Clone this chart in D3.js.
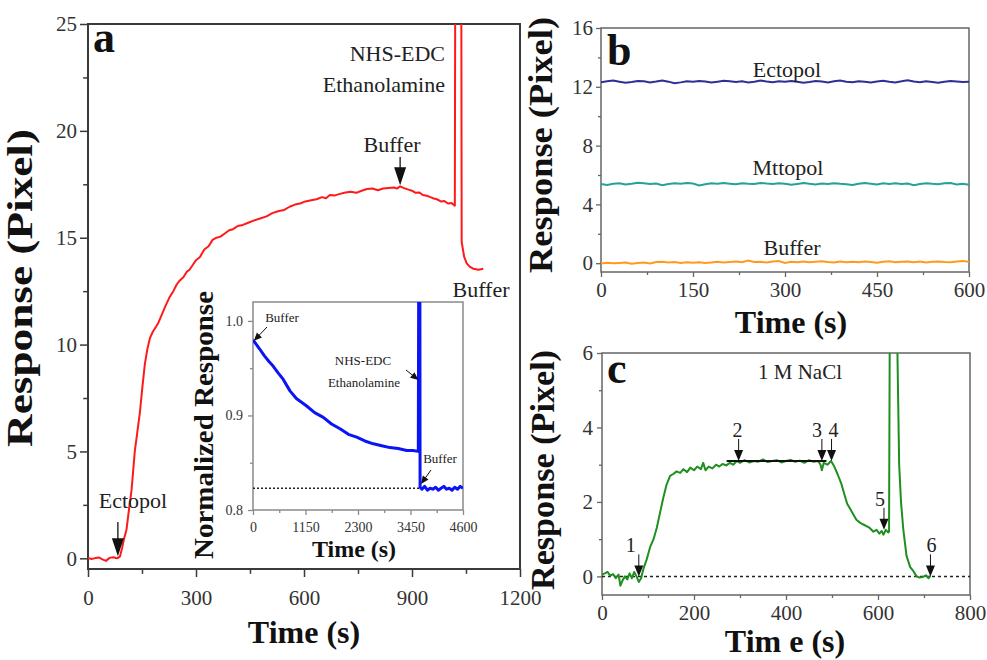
<!DOCTYPE html>
<html>
<head>
<meta charset="utf-8">
<script src="https://cdn.jsdelivr.net/npm/d3@7"></script>
<style>
  body { margin: 0; background: #fff; }
  svg { display: block; }
</style>
</head>
<body>
<svg width="987" height="660"></svg>
<script>
// ---- panel a: immobilisation run (red) ----
const timeA = [0,10,20,30,40,50,60,70,80,86,89,95,100,107,114,121,125,130,137,144,151,158,165,172,180,195,
  205,215,226,237,246,255,265,274,282,290,300,311,323,335,346,357,368,380,392,403,416,430,445,460,478,496,512,530,545,560,
  575,589,604,620,635,650,661,672,686,700,715,730,745,760,775,790,805,820,835,850,858,867,878,890,900,910,920,930,944,958,
  969,980,990,1000,1010,1019,1020,1037,1038,1045,1052,1060,1070,1085,1098];
const respA = [0.02,-0.03,0.01,0.04,-0.05,-0.12,0.02,0.05,0.0,0.05,0.1,0.5,0.9,1.35,2.3,3.2,4.0,5.0,5.9,6.8,8.0,9.1,9.8,10.3,10.6,11.0,
  11.4,11.8,12.2,12.5,12.8,13.0,13.15,13.4,13.5,13.7,13.95,14.1,14.45,14.6,14.9,15.0,15.05,15.2,15.35,15.4,15.55,15.6,15.7,15.8,15.9,16.0,16.15,16.25,16.3,16.45,
  16.55,16.6,16.7,16.75,16.8,16.9,16.85,17.0,16.98,17.05,17.12,17.15,17.1,17.2,17.28,17.3,17.22,17.3,17.33,17.35,17.3,17.4,17.32,17.25,17.2,17.1,17.12,17.0,16.95,16.85,
  16.8,16.7,16.72,16.6,16.62,16.5,26,26,14.8,14.1,13.8,13.65,13.55,13.5,13.55];

// ---- inset: normalized response (blue) ----
const timeIn = [0,44,150,250,350,444,550,650,810,950,1175,1350,1540,1720,1906,2090,2271,2450,2636,2820,
  3000,3180,3367,3500,3621,3630,3655,3660,3700,3760,3820,3880,3940,4000,4060,4120,4180,4240,4300,4360,4420,4480,4540,4600];
const respIn = [0.98,0.977,0.970,0.963,0.957,0.952,0.945,0.939,0.926,0.918,0.910,0.903,0.898,0.891,0.886,0.880,0.877,0.873,0.870,0.868,
  0.866,0.865,0.863,0.863,0.862,1.05,1.05,0.824,0.822,0.825,0.821,0.823,0.822,0.824,0.821,0.823,0.825,0.822,0.823,0.821,0.824,0.822,0.825,0.823];
const baseIn = 0.823;

// ---- panel b: control injections ----
const timeB = [0,10,20,30,40,50,60,70,80,90,100,110,120,130,140,150,160,170,180,190,200,210,220,230,240,250,260,270,280,290,
  300,310,320,330,340,350,360,370,380,390,400,410,420,430,440,450,460,470,480,490,500,510,520,530,540,550,560,570,580,590,600];
const ectopol = [12.30,12.38,12.42,12.35,12.28,12.33,12.40,12.37,12.30,12.36,12.43,12.35,12.24,12.30,12.38,12.34,12.40,12.36,12.29,12.35,
  12.41,12.38,12.33,12.37,12.30,12.35,12.42,12.36,12.31,12.38,12.34,12.40,12.35,12.28,12.33,12.39,12.36,12.30,12.37,12.42,
  12.35,12.31,12.38,12.34,12.29,12.36,12.41,12.35,12.30,12.37,12.45,12.36,12.31,12.38,12.33,12.27,12.35,12.40,12.36,12.32,12.34];
const mttopol = [5.38,5.32,5.40,5.44,5.36,5.41,5.47,5.43,5.38,5.42,5.30,5.38,5.44,5.40,5.46,5.42,5.29,5.37,5.43,5.40,
  5.45,5.41,5.37,5.44,5.40,5.38,5.46,5.42,5.39,5.44,5.41,5.33,5.39,5.45,5.40,5.36,5.42,5.38,5.44,5.40,
  5.37,5.32,5.40,5.45,5.41,5.36,5.43,5.39,5.44,5.38,5.42,5.31,5.39,5.44,5.40,5.37,5.43,5.46,5.36,5.40,5.33];
const bufferB = [-0.02,0.03,-0.01,0.02,0.04,-0.03,0.01,0.05,-0.02,0.08,0.10,0.04,0.08,0.02,0.06,0.03,0.07,0.01,0.05,0.09,
  0.04,0.08,0.12,0.06,0.18,0.08,0.10,0.05,0.11,0.14,0.02,0.09,0.07,0.12,0.06,0.10,0.13,0.08,0.04,0.11,
  0.07,0.10,0.06,0.12,0.08,0.03,0.09,0.13,0.06,0.10,0.12,0.07,0.11,0.05,0.09,0.12,0.08,0.06,0.11,0.14,0.10];
const seriesB = [
  {name: "Ectopol", values: ectopol, color: "#2e2e96"},
  {name: "Mttopol", values: mttopol, color: "#21a396"},
  {name: "Buffer", values: bufferB, color: "#ff9a1f"}
];

// ---- panel c: regeneration with 1 M NaCl (green) ----
const timeC = [0,6,12,18,24,30,36,40,45,50,55,60,65,70,75,80,85,90,97,105,112,119,126,133,140,148,155,162,170,177,
  185,192,200,207,215,220,225,232,240,248,255,262,270,278,285,293,300,310,320,330,340,350,360,370,380,390,400,410,420,430,
  440,450,460,470,475,478,482,490,498,505,512,520,527,533,540,547,553,560,567,575,582,590,597,603,608,612,617,622,624,626,
  639,641,646,650,655,662,670,677,684,690,697,704,710,714];
const respC = [0.05,0.08,0.12,0.02,0.06,-0.05,0.05,-0.25,-0.1,0.0,-0.08,0.08,-0.05,0.12,0.0,-0.15,-0.05,0.2,0.45,0.8,
  1.0,1.3,1.7,2.1,2.45,2.7,2.75,2.82,2.78,2.88,2.8,2.92,2.85,2.95,2.88,3.05,2.85,2.95,2.9,3.0,
  2.95,3.02,2.98,3.05,3.0,3.1,3.05,3.12,3.06,3.1,3.08,3.14,3.07,3.1,3.12,3.06,3.1,3.13,3.08,3.11,
  3.05,3.12,3.08,3.1,3.0,2.85,3.05,3.0,3.1,2.95,2.75,2.5,2.2,1.95,1.8,1.65,1.52,1.45,1.4,1.35,
  1.3,1.2,1.25,1.15,1.22,1.12,1.25,1.18,1.2,8,8,7,3.0,2.0,1.26,0.55,0.25,0.14,0.0,-0.03,-0.02,0.03,-0.05,0.02];
const plateau = {from: 271, to: 488, value: 3.1};
const eventsC = [
  {label: "1", t: 80, v: 0, dx: -8},
  {label: "2", t: 297, v: 3.1, dx: -1},
  {label: "3", t: 478, v: 3.1, dx: -5},
  {label: "4", t: 499, v: 3.1, dx: 2},
  {label: "5", t: 613, v: 1.25, dx: -4},
  {label: "6", t: 714, v: 0, dx: 1}
];

const serif = '"Liberation Serif","Times New Roman",serif';
const svg = d3.select("svg");
const defs = svg.append("defs");

function clip(id, x, y) {
  defs.append("clipPath").attr("id", id).append("rect")
    .attr("x", x.range()[0]).attr("y", y.range()[1])
    .attr("width", x.range()[1] - x.range()[0])
    .attr("height", y.range()[0] - y.range()[1]);
}

// minor + major ticks, labels, and a closed frame
function axes(x, y, o) {
  const x0 = x.range()[0], y0 = y.range()[0];
  const xm = svg.append("g").attr("transform", `translate(0,${y0})`)
    .call(d3.axisBottom(x).tickValues(o.xMinor).tickSize(o.tick * 0.6).tickFormat(""));
  const ym = svg.append("g").attr("transform", `translate(${x0},0)`)
    .call(d3.axisLeft(y).tickValues(o.yMinor).tickSize(o.tick * 0.6).tickFormat(""));
  const xa = svg.append("g").attr("transform", `translate(0,${y0})`)
    .call(d3.axisBottom(x).tickValues(o.xTicks).tickSize(o.tick).tickPadding(o.xPad).tickFormat(o.xFmt || d3.format("d")));
  const ya = svg.append("g").attr("transform", `translate(${x0},0)`)
    .call(d3.axisLeft(y).tickValues(o.yTicks).tickSize(o.tick).tickPadding(o.yPad).tickFormat(o.yFmt || d3.format("d")));
  [xm, ym, xa, ya].forEach(g => {
    g.select(".domain").remove();
    g.attr("font-family", serif).attr("font-size", o.font);
    g.selectAll("line").attr("stroke", o.color).attr("stroke-width", o.sw);
    g.selectAll("text").attr("fill", "#333");
  });
  svg.append("rect")
    .attr("x", x0).attr("y", y.range()[1])
    .attr("width", x.range()[1] - x0).attr("height", y0 - y.range()[1])
    .attr("fill", "none").attr("stroke", o.color).attr("stroke-width", o.frame);
}

function yTitle(text, cx, cy, size, len) {
  svg.append("text")
    .attr("transform", `translate(${cx},${cy}) rotate(-90)`)
    .attr("text-anchor", "middle").attr("font-family", serif)
    .attr("font-weight", "bold").attr("font-size", size)
    .attr("textLength", len).attr("lengthAdjust", "spacingAndGlyphs")
    .attr("fill", "#111").text(text);
}

function label(text, x, y, size, o = {}) {
  return svg.append("text").attr("x", x).attr("y", y)
    .attr("text-anchor", o.anchor || "middle").attr("font-family", serif)
    .attr("font-size", size).attr("font-weight", o.weight || "normal")
    .attr("fill", o.fill || "#222").text(text);
}

function arrow(x1, y1, x2, y2, hl, hw, sw) {
  const a = Math.atan2(y2 - y1, x2 - x1);
  svg.append("line")
    .attr("x1", x1).attr("y1", y1)
    .attr("x2", x2 - Math.cos(a) * hl * 0.6).attr("y2", y2 - Math.sin(a) * hl * 0.6)
    .attr("stroke", "#111").attr("stroke-width", sw);
  const bx = x2 - Math.cos(a) * hl, by = y2 - Math.sin(a) * hl;
  const px = -Math.sin(a) * hw / 2, py = Math.cos(a) * hw / 2;
  svg.append("path")
    .attr("d", `M${x2},${y2}L${bx + px},${by + py}L${bx - px},${by - py}Z`)
    .attr("fill", "#111");
}

// ================= panel a =================
const xA = d3.scaleLinear().domain([0, 1200]).range([88, 520]);
const yA = d3.scaleLinear().domain([-0.5, 25]).range([569, 24]);
clip("clipA", xA, yA);

axes(xA, yA, {
  xTicks: [0, 300, 600, 900, 1200], xMinor: [150, 450, 750, 1050],
  yTicks: [0, 5, 10, 15, 20, 25], yMinor: [2.5, 7.5, 12.5, 17.5, 22.5],
  tick: 8, xPad: 13, yPad: 3, font: 21, color: "#3a3a3a", sw: 1.5, frame: 2
});

svg.append("path")
  .datum(timeA.map((t, i) => [t, respA[i]]))
  .attr("clip-path", "url(#clipA)")
  .attr("fill", "none").attr("stroke", "#ff1a1a").attr("stroke-width", 2)
  .attr("stroke-linejoin", "round")
  .attr("d", d3.line().x(d => xA(d[0])).y(d => yA(d[1])));

label("a", 93, 52, 44, {anchor: "start", weight: "bold", fill: "#111"});
label("NHS-EDC", 445, 61, 22, {anchor: "end"});
label("Ethanolamine", 445, 92, 22, {anchor: "end"});
label("Buffer", 392, 152, 22);
arrow(xA(867), 157, xA(867), yA(17.45), 18, 12, 1.3);
label("Buffer", 481, 297, 22);
label("Ectopol", 133, 508, 22);
arrow(xA(83), 522, xA(83), yA(0.1), 18, 12, 1.3);

yTitle("Response (Pixel)", 32, 288, 35, 318);
label("Time (s)", 304, 643, 32, {weight: "bold", fill: "#111"});

// ---------------- inset ----------------
const xI = d3.scaleLinear().domain([0, 4600]).range([253, 463]);
const yI = d3.scaleLinear().domain([0.8, 1.02]).range([510, 302]);
clip("clipI", xI, yI);

svg.append("rect")
  .attr("x", 253).attr("y", 302).attr("width", 210).attr("height", 208)
  .attr("fill", "#fff");

axes(xI, yI, {
  xTicks: [0, 1150, 2300, 3450, 4600], xMinor: [575, 1725, 2875, 4025],
  yTicks: [0.8, 0.9, 1.0], yMinor: [0.85, 0.95],
  tick: 5, xPad: 7, yPad: 5, font: 14, color: "#8a8a8a", sw: 1.3, frame: 1.5,
  yFmt: d3.format(".1f")
});

svg.append("line")
  .attr("x1", xI(0)).attr("x2", xI(3660))
  .attr("y1", yI(baseIn)).attr("y2", yI(baseIn))
  .attr("stroke", "#222").attr("stroke-width", 1.3).attr("stroke-dasharray", "2,2");

svg.append("path")
  .datum(timeIn.map((t, i) => [t, respIn[i]]))
  .attr("clip-path", "url(#clipI)")
  .attr("fill", "none").attr("stroke", "#0a14f5").attr("stroke-width", 3)
  .attr("stroke-linejoin", "round")
  .attr("d", d3.line().x(d => xI(d[0])).y(d => yI(d[1])));

label("Buffer", 282, 322, 13);
arrow(267, 327, xI(20), yI(0.979), 8, 7, 1);
label("NHS-EDC", 363, 365, 13);
label("Ethanolamine", 364, 387, 13);
arrow(406, 370, xI(3625), 380, 8, 7, 1);
label("Buffer", 440, 463, 13);
arrow(431, 470, xI(3680), 484, 8, 7, 1);

yTitle("Normalized Response", 213, 425, 27, 268);
label("Time (s)", 354, 557, 24, {weight: "bold", fill: "#111"});

// ================= panel b =================
const xB = d3.scaleLinear().domain([0, 600]).range([601, 969]);
const yB = d3.scaleLinear().domain([-0.6, 16]).range([272, 28]);
clip("clipB", xB, yB);

axes(xB, yB, {
  xTicks: [0, 150, 300, 450, 600], xMinor: [75, 225, 375, 525],
  yTicks: [0, 4, 8, 12, 16], yMinor: [2, 6, 10, 14],
  tick: 5, xPad: 5, yPad: 3, font: 21, color: "#666", sw: 1.3, frame: 1.5
});

seriesB.forEach(s => {
  svg.append("path")
    .datum(timeB.map((t, i) => [t, s.values[i]]))
    .attr("clip-path", "url(#clipB)")
    .attr("fill", "none").attr("stroke", s.color).attr("stroke-width", 2)
    .attr("d", d3.line().x(d => xB(d[0])).y(d => yB(d[1])));
});
label("Ectopol", 787, 77, 22);
label("Mttopol", 788, 175, 22);
label("Buffer", 792, 255, 22);
label("b", 607, 65, 44, {anchor: "start", weight: "bold", fill: "#111"});

yTitle("Response (Pixel)", 552, 145, 34, 256);
label("Time (s)", 791, 333, 32, {weight: "bold", fill: "#111"});

// ================= panel c =================
const xC = d3.scaleLinear().domain([0, 800]).range([602, 970]);
const yC = d3.scaleLinear().domain([-0.5, 6]).range([595, 353]);
clip("clipC", xC, yC);

axes(xC, yC, {
  xTicks: [0, 200, 400, 600, 800], xMinor: [100, 300, 500, 700],
  yTicks: [0, 2, 4, 6], yMinor: [1, 3, 5],
  tick: 5, xPad: 5, yPad: 4, font: 21, color: "#666", sw: 1.3, frame: 1.5
});

svg.append("line")
  .attr("x1", xC(0)).attr("x2", xC(800))
  .attr("y1", yC(0)).attr("y2", yC(0))
  .attr("stroke", "#222").attr("stroke-width", 1.5).attr("stroke-dasharray", "3,3");

svg.append("path")
  .datum(timeC.map((t, i) => [t, respC[i]]))
  .attr("clip-path", "url(#clipC)")
  .attr("fill", "none").attr("stroke", "#1f8f1f").attr("stroke-width", 2)
  .attr("stroke-linejoin", "round")
  .attr("d", d3.line().x(d => xC(d[0])).y(d => yC(d[1])));

svg.append("line")
  .attr("x1", xC(plateau.from)).attr("x2", xC(plateau.to))
  .attr("y1", yC(plateau.value)).attr("y2", yC(plateau.value))
  .attr("stroke", "#111").attr("stroke-width", 2);

eventsC.forEach(e => {
  const tipY = yC(e.v);
  arrow(xC(e.t), tipY - 22, xC(e.t), tipY, 11, 9, 1);
  label(e.label, xC(e.t) + e.dx, tipY - 24, 20);
});

label("1 M NaCl", 800, 379, 21);
label("c", 607, 383, 44, {anchor: "start", weight: "bold", fill: "#111"});

yTitle("Response (Pixel)", 554, 470, 34, 240);
label("Tim e (s)", 785, 652, 32, {weight: "bold", fill: "#111"});
</script>
</body>
</html>
